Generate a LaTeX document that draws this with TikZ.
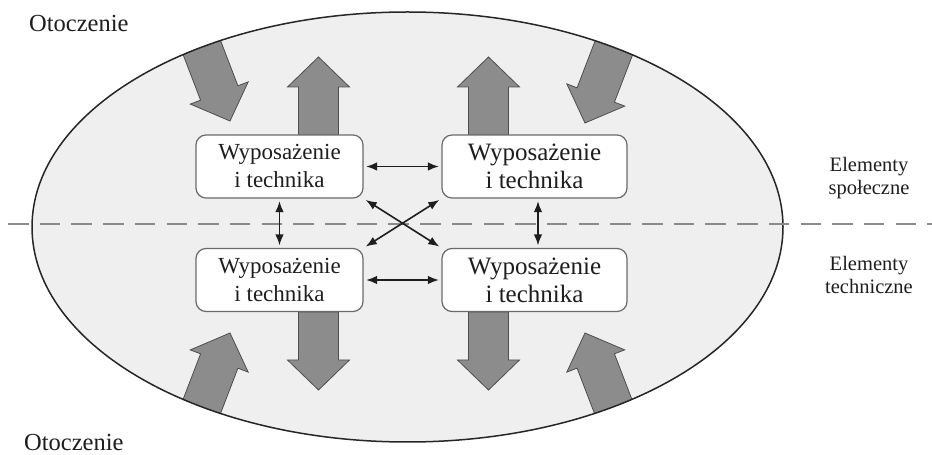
\documentclass[tikz,border=0pt]{standalone}
\usepackage{fontspec}
\setmainfont{Liberation Serif}
\usetikzlibrary{arrows.meta}

\definecolor{ovalfill}{HTML}{EFEFEF}
\definecolor{blockfill}{HTML}{8C8C8C}
\definecolor{blockedge}{HTML}{4E4E4E}
\definecolor{boxedge}{HTML}{6A6A6A}
\definecolor{dashcol}{HTML}{8A8A8A}
\definecolor{inkcol}{HTML}{1E1E1E}

\begin{document}
\begin{tikzpicture}[x=1pt,y=1pt,
  % wide grey arrow, tip at the origin, pointing along +x; #1 = overall length
  pics/blockarrow/.style={code={
    \filldraw[fill=blockfill,draw=blockedge,line width=0.8pt,line join=miter]
      (0,0) -- (-30,31) -- (-30,20) -- (-#1,20) -- (-#1,-20)
      -- (-30,-20) -- (-30,-31) -- cycle;}},
  wbox/.style={draw=boxedge,line width=1.2pt,fill=white,rounded corners=10pt,
    minimum height=63pt,align=center,inner sep=0pt,text=inkcol},
  leftbox/.style={wbox,minimum width=167pt,font=\fontsize{23}{28}\selectfont},
  rightbox/.style={wbox,minimum width=185pt,font=\fontsize{25}{28}\selectfont},
  conn/.style={{Latex[length=11pt,width=8.5pt]}-{Latex[length=11pt,width=8.5pt]},
    line width=1.6pt,draw=inkcol,shorten <=2.5pt,shorten >=2.5pt},
  envlabel/.style={font=\fontsize{24.5}{28}\selectfont,text=inkcol,inner sep=0pt,anchor=base west},
  sidelabel/.style={font=\fontsize{20.5}{23}\selectfont,text=inkcol,align=center,inner sep=0pt}
]
\useasboundingbox (0,0) rectangle (932,455);

% the system oval
\fill[ovalfill] (407.5,228) ellipse [x radius=375.5, y radius=215];

% environment influences entering through the oval's edge
\begin{scope}
  \clip (407.5,228) ellipse [x radius=375.5, y radius=215];
  \pic[rotate=-69]  at (230,334) {blockarrow=115};
  \pic[rotate=-111] at (585,332) {blockarrow=115};
  \pic[rotate=69]   at (230,122) {blockarrow=115};
  \pic[rotate=111]  at (585,122) {blockarrow=115};
\end{scope}
\draw[black!85,line width=1.5pt] (407.5,228) ellipse [x radius=375.5, y radius=215];

% boundary between the social and the technical part
\coordinate (dashL) at (8,231);
\coordinate (dashR) at (932,231);
\draw[dashcol,line width=1.6pt,dash pattern=on 20.5pt off 11.2pt] (dashL) -- (dashR);

% outputs of the subsystems
\pic[rotate=90]  at (318.5,398) {blockarrow=78};
\pic[rotate=90]  at (488.5,398) {blockarrow=78};
\pic[rotate=-90] at (318.5,65)  {blockarrow=78};
\pic[rotate=-90] at (488.5,65)  {blockarrow=78};

% subsystems
\node[leftbox]  (tl) at (279.5,288.5) {Wyposażenie\\i technika};
\node[rightbox] (tr) at (534.5,288.5) {Wyposażenie\\i technika};
\node[leftbox]  (bl) at (279.5,175)   {Wyposażenie\\i technika};
\node[rightbox] (br) at (534.5,175)   {Wyposażenie\\i technika};

% mutual relations
\draw[conn] (tl) -- (tr);
\draw[conn] (bl) -- (br);
\draw[conn] (tl) -- (bl);
\draw[conn] ([xshift=3.5pt]tr.south) -- ([xshift=3.5pt]br.north);
\draw[conn] (tl.south east) -- (br.north west);
\draw[conn] (tr.south west) -- (bl.north east);

% labels
\node[envlabel] (envtop) at (29,423) {Otoczenie};
\node[envlabel] (envbot) at (24,4.5) {Otoczenie};
\node[sidelabel] (soc)  at (869,276.5) {Elementy\\społeczne};
\node[sidelabel] (tech) at (869,180.5) {Elementy\\techniczne};
\end{tikzpicture}
\end{document}
